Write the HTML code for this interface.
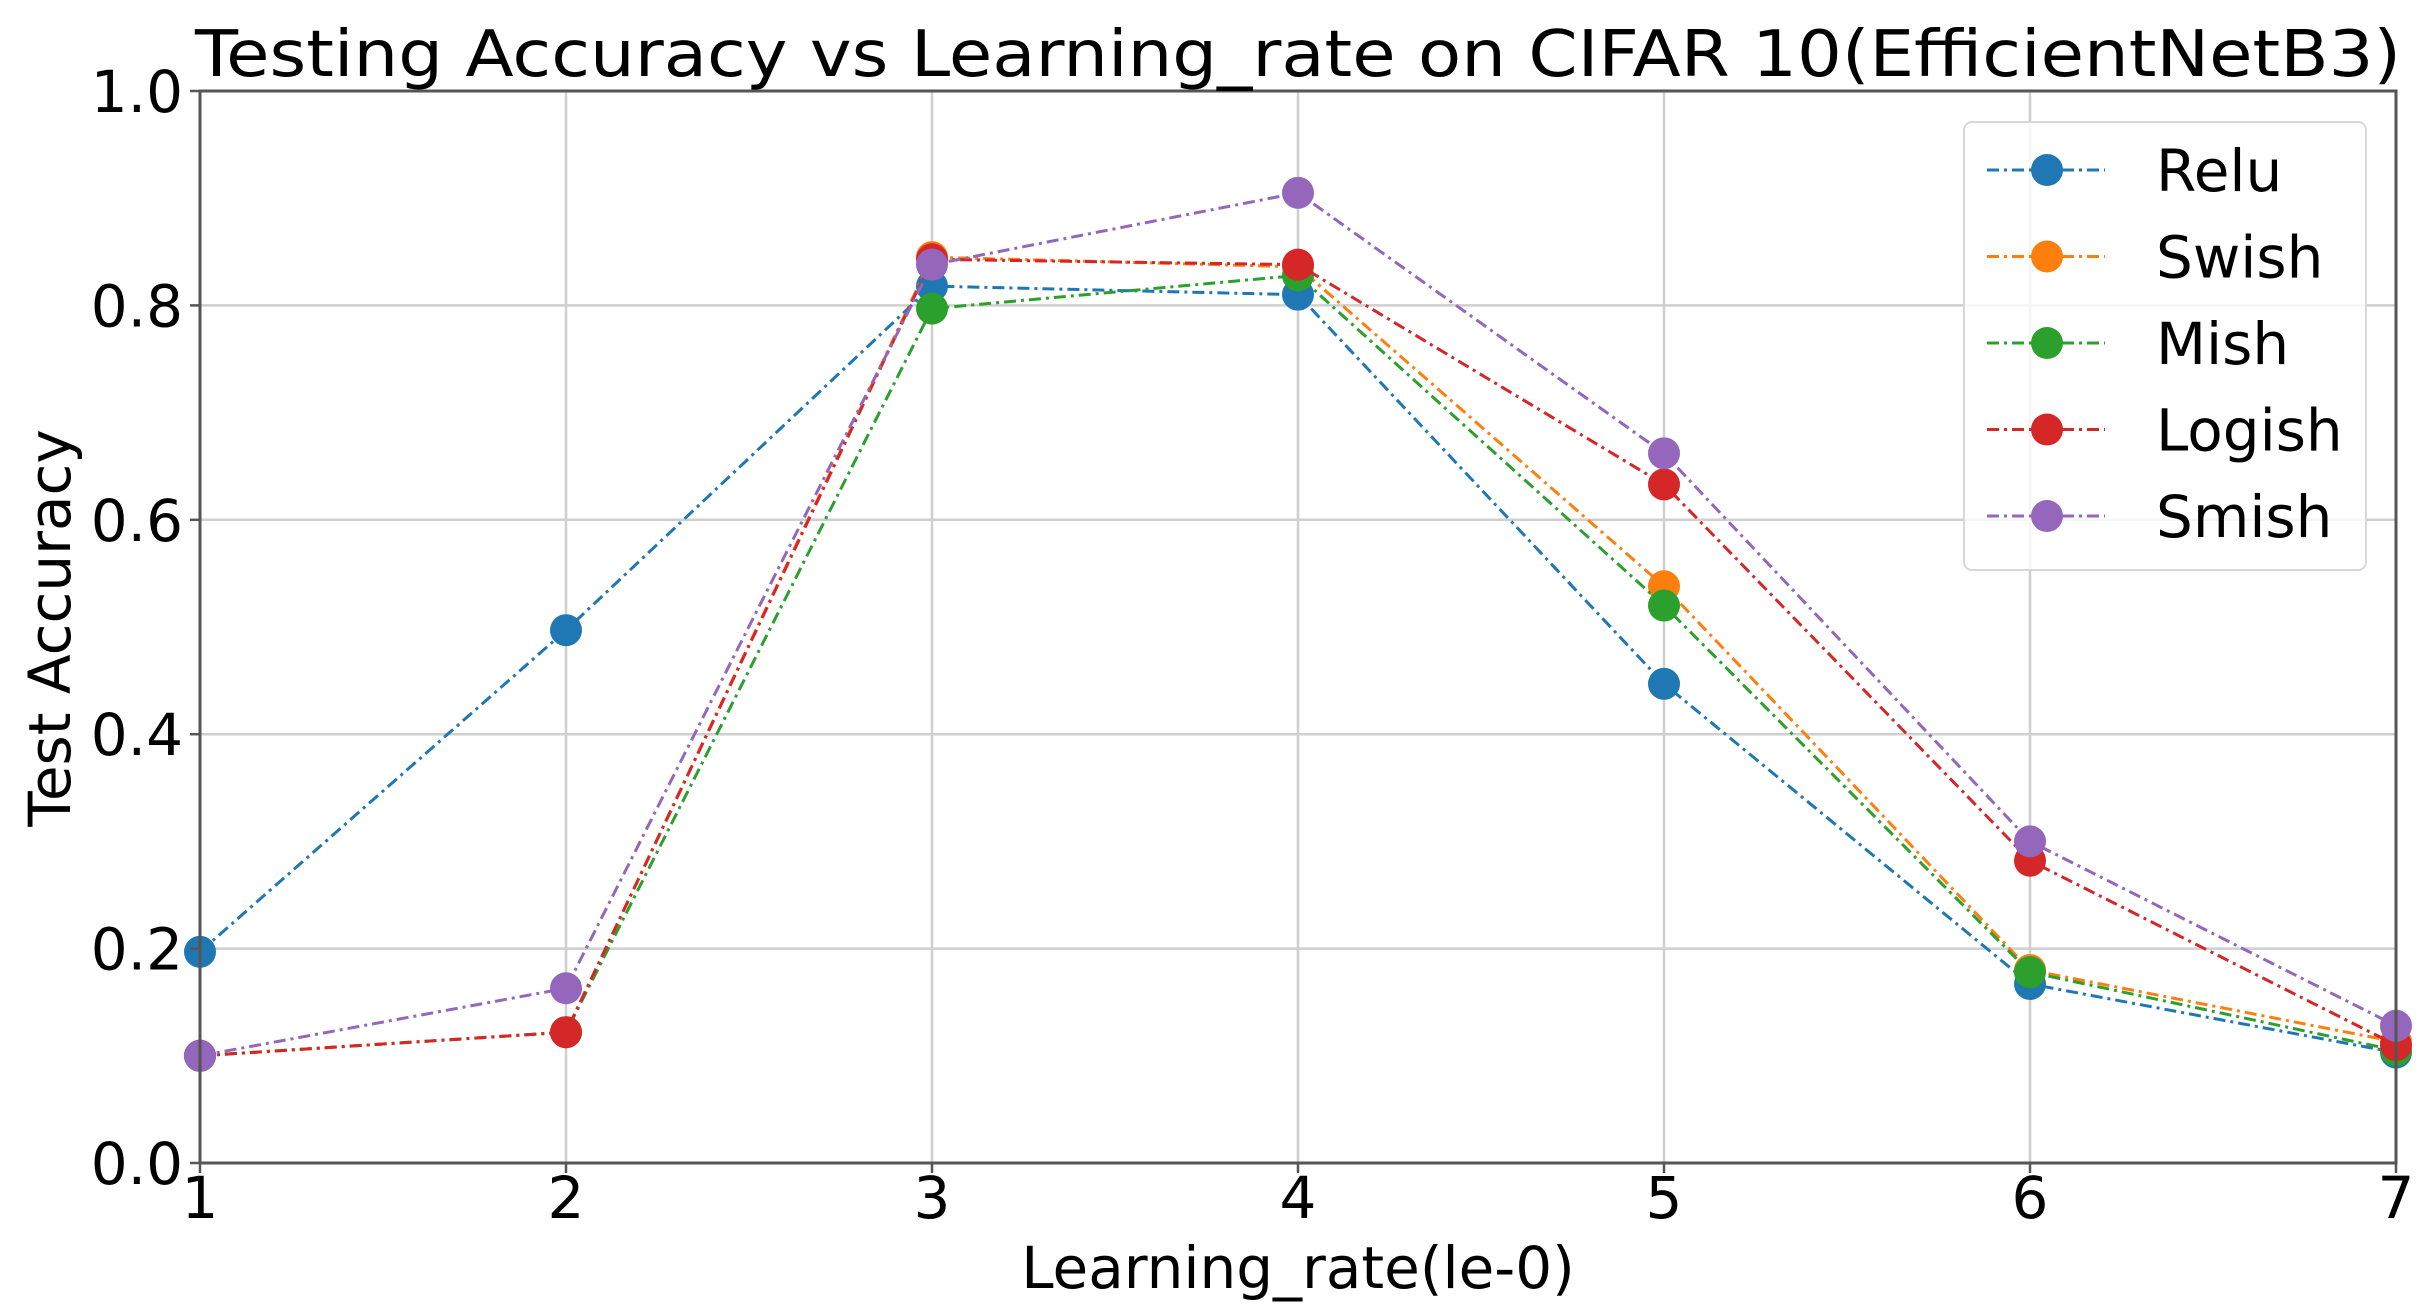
<!DOCTYPE html>
<html><head><meta charset="utf-8"><style>
html,body{margin:0;padding:0;background:#fff;}
svg{display:block;font-family:"DejaVu Sans","Liberation Sans",sans-serif;}
</style></head><body>
<svg id="chart" width="2430" height="1315" viewBox="0 0 2430 1315" xmlns="http://www.w3.org/2000/svg">
<rect x="0" y="0" width="2430" height="1315" fill="#fff"/>
<g id="grid"></g>
<g id="series"></g>
<rect x="200" y="91" width="2196" height="1072" fill="none" stroke="#555" stroke-width="3"/>
<g id="ticks"></g>
<text x="1298" y="76" font-size="64" text-anchor="middle" textLength="2206" lengthAdjust="spacingAndGlyphs">Testing Accuracy vs Learning_rate on CIFAR 10(EfficientNetB3)</text>
<text x="1298" y="1288" font-size="58" text-anchor="middle">Learning_rate(le-0)</text>
<text x="0" y="0" font-size="58" text-anchor="middle" transform="translate(70,628) rotate(-90)">Test Accuracy</text>
<g id="legend"></g>
</svg>
<script>
const categories = [1, 2, 3, 4, 5, 6, 7];
const seriesNames = ["Relu", "Swish", "Mish", "Logish", "Smish"];
const reluValues   = [0.197, 0.497, 0.818, 0.810, 0.447, 0.167, 0.103];
const swishValues  = [0.100, 0.122, 0.845, 0.836, 0.538, 0.180, 0.113];
const mishValues   = [0.100, 0.122, 0.797, 0.828, 0.520, 0.178, 0.105];
const logishValues = [0.100, 0.122, 0.843, 0.838, 0.633, 0.282, 0.110];
const smishValues  = [0.100, 0.163, 0.838, 0.905, 0.662, 0.300, 0.128];
const yTicks = [0.0, 0.2, 0.4, 0.6, 0.8, 1.0];
const yTickLabels = ["0.0", "0.2", "0.4", "0.6", "0.8", "1.0"];
const xTickLabels = ["1", "2", "3", "4", "5", "6", "7"];

const colors = ["#1f77b4", "#ff7f0e", "#2ca02c", "#d62728", "#9467bd"];
const allValues = [reluValues, swishValues, mishValues, logishValues, smishValues];
const L = 200, R = 2396, T = 91, B = 1163;
const xs = v => L + (v - 1) / 6 * (R - L);
const ys = v => B - v * (B - T);
const NS = "http://www.w3.org/2000/svg";
function mk(tag, attrs, parent) {
  const e = document.createElementNS(NS, tag);
  for (const k in attrs) e.setAttribute(k, attrs[k]);
  parent.appendChild(e);
  return e;
}
const grid = document.getElementById('grid');
const ticks = document.getElementById('ticks');
categories.forEach((c, i) => {
  const x = xs(c);
  const g = mk('line', {x1: x, x2: x, y1: T, y2: B, stroke: '#cfcfcf', 'stroke-width': 2.5}, grid);
  
  
  const tk = mk('line', {x1: x, x2: x, y1: B, y2: B + 10, stroke: '#555', 'stroke-width': 2.5}, ticks);
  
  
  const t = mk('text', {x: x, y: 1218, 'font-size': 58, 'text-anchor': 'middle'}, ticks);
  t.textContent = xTickLabels[i];
  
  
});
yTicks.forEach((v, i) => {
  const y = ys(v);
  const g = mk('line', {x1: L, x2: R, y1: y, y2: y, stroke: '#cfcfcf', 'stroke-width': 2.5}, grid);
  
  
  const tk = mk('line', {x1: L - 10, x2: L, y1: y, y2: y, stroke: '#555', 'stroke-width': 2.5}, ticks);
  
  
  const t = mk('text', {x: 183, y: y + 21, 'font-size': 58, 'text-anchor': 'end'}, ticks);
  t.textContent = yTickLabels[i];
  
  
});
const sg = document.getElementById('series');
allValues.forEach((vals, s) => {
  const g = mk('g', {}, sg);
  
  
  const pts = vals.map((v, i) => xs(categories[i]) + ',' + ys(v)).join(' ');
  const pl = mk('polyline', {points: pts, fill: 'none', stroke: colors[s], 'stroke-width': 3, 'stroke-dasharray': '12 5 3 5'}, g);
  
  
  vals.forEach((v, i) => {
    const c = mk('circle', {cx: xs(categories[i]), cy: ys(v), r: 16, fill: colors[s]}, g);
    
    
  });
});
const lg = document.getElementById('legend');
const box = mk('rect', {x: 1964, y: 122, width: 402, height: 448, rx: 8, fill: '#fff', 'fill-opacity': 0.8, stroke: '#d8d8d8', 'stroke-width': 2}, lg);


seriesNames.forEach((n, s) => {
  const y = 170 + s * 86.5;
  const g = mk('g', {}, lg);
  
  
  mk('line', {x1: 1987, x2: 2105, y1: y, y2: y, stroke: colors[s], 'stroke-width': 3, 'stroke-dasharray': '12 5 3 5'}, g);
  mk('circle', {cx: 2047, cy: y, r: 16, fill: colors[s]}, g);
  const t = mk('text', {x: 2156, y: y + 21, 'font-size': 58}, g);
  t.textContent = n;
  
  
});
</script>
</body></html>
